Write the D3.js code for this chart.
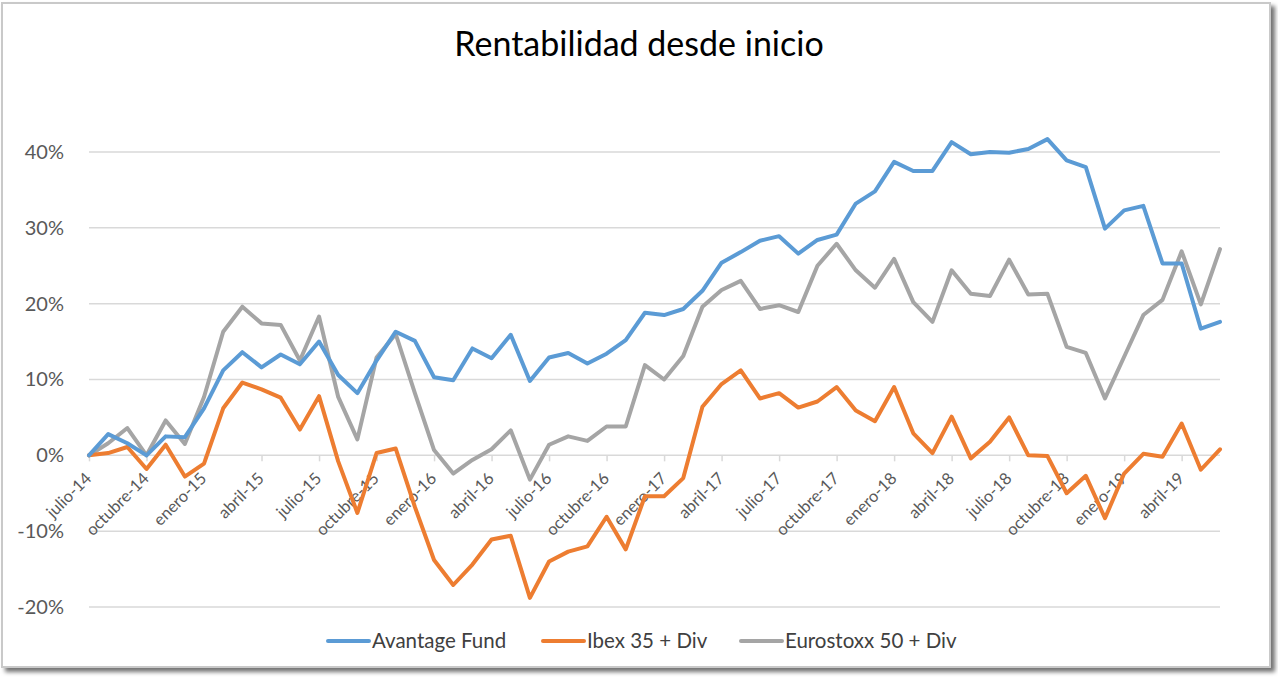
<!DOCTYPE html>
<html>
<head>
<meta charset="utf-8">
<script src="https://cdn.jsdelivr.net/npm/d3@7"></script>
<style>
  body { margin: 0; background: #fff; }
  svg text { font-family: Lato, "Open Sans", sans-serif; }
</style>
</head>
<body>
<svg></svg>
<script>
var width = 1278,
	height = 677;

var meses = ["julio-14","agosto-14","septiembre-14","octubre-14","noviembre-14","diciembre-14",
	"enero-15","febrero-15","marzo-15","abril-15","mayo-15","junio-15",
	"julio-15","agosto-15","septiembre-15","octubre-15","noviembre-15","diciembre-15",
	"enero-16","febrero-16","marzo-16","abril-16","mayo-16","junio-16",
	"julio-16","agosto-16","septiembre-16","octubre-16","noviembre-16","diciembre-16",
	"enero-17","febrero-17","marzo-17","abril-17","mayo-17","junio-17",
	"julio-17","agosto-17","septiembre-17","octubre-17","noviembre-17","diciembre-17",
	"enero-18","febrero-18","marzo-18","abril-18","mayo-18","junio-18",
	"julio-18","agosto-18","septiembre-18","octubre-18","noviembre-18","diciembre-18",
	"enero-19","febrero-19","marzo-19","abril-19","mayo-19","junio-19"];

// rentabilidad acumulada en %
var avantage = [0, 2.8, 1.6, 0, 2.5, 2.4, 6.2, 11.2, 13.6, 11.6, 13.3, 12.0,
	15.0, 10.6, 8.2, 12.5, 16.3, 15.1, 10.3, 9.9, 14.1, 12.8, 15.9, 9.8,
	12.9, 13.5, 12.1, 13.4, 15.2, 18.8, 18.5, 19.3, 21.7, 25.4, 26.8, 28.3,
	28.9, 26.6, 28.4, 29.1, 33.2, 34.8, 38.7, 37.5, 37.5, 41.3, 39.7, 40.0,
	39.9, 40.4, 41.7, 38.9, 38.0, 29.9, 32.3, 32.9, 25.3, 25.3, 16.7, 17.6];

var ibex = [0, 0.3, 1.1, -1.8, 1.4, -2.8, -1.1, 6.2, 9.6, 8.7, 7.6, 3.4,
	7.8, -0.8, -7.6, 0.3, 0.9, -6.8, -13.8, -17.1, -14.4, -11.1, -10.6, -18.8,
	-14.0, -12.7, -12.0, -8.1, -12.4, -5.4, -5.4, -3.0, 6.4, 9.4, 11.2, 7.5,
	8.2, 6.3, 7.1, 9.0, 5.9, 4.5, 9.0, 2.9, 0.3, 5.1, -0.4, 1.8,
	5.0, 0.0, -0.1, -5.0, -2.7, -8.3, -2.4, 0.2, -0.2, 4.2, -1.9, 0.8];

var eurostoxx = [0, 1.6, 3.6, 0, 4.6, 1.5, 7.7, 16.3, 19.6, 17.4, 17.2, 12.5,
	18.3, 7.7, 2.1, 12.9, 16.0, 8.2, 0.7, -2.4, -0.6, 0.8, 3.3, -3.2,
	1.4, 2.5, 1.9, 3.8, 3.8, 11.9, 10.0, 13.1, 19.6, 21.8, 23.0, 19.3,
	19.8, 18.9, 25.0, 27.9, 24.4, 22.1, 25.9, 20.2, 17.6, 24.4, 21.3, 21.0,
	25.8, 21.2, 21.3, 14.3, 13.5, 7.5, 13.0, 18.5, 20.5, 26.9, 19.9, 27.2];

var series = [
	{name: "Avantage Fund", values: avantage, color: "#5B9BD5"},
	{name: "Ibex 35 + Div", values: ibex, color: "#ED7D31"},
	{name: "Eurostoxx 50 + Div", values: eurostoxx, color: "#A5A5A5"}
];

var yTicks = [-20, -10, 0, 10, 20, 30, 40];

var svg = d3.select("svg")
	.attr("width", width)
	.attr("height", height);

// marco con sombra
var defs = svg.append("defs");
var f = defs.append("filter").attr("id", "sombra")
	.attr("x", "-2%").attr("y", "-2%").attr("width", "104%").attr("height", "106%");
f.append("feDropShadow")
	.attr("dx", 4).attr("dy", 4).attr("stdDeviation", 2)
	.attr("flood-color", "#000").attr("flood-opacity", 0.55);

svg.append("rect")
	.attr("x", 2).attr("y", 3)
	.attr("width", 1268).attr("height", 664)
	.attr("fill", "#fff")
	.attr("stroke", "#c9c9c9")
	.attr("stroke-width", 2)
	.attr("filter", "url(#sombra)");

var x = d3.scalePoint()
	.domain(meses)
	.range([89, 1220]);

var y = d3.scaleLinear()
	.domain([-20, 40])
	.range([607, 152]);

// titulo
svg.append("text")
	.attr("x", 639)
	.attr("y", 56)
	.attr("text-anchor", "middle")
	.style("font-size", "34px")
	.style("fill", "#000")
	.text("Rentabilidad desde inicio");

// rejilla
svg.append("g")
	.selectAll("line")
	.data(yTicks)
	.enter()
	.append("line")
	.attr("x1", 89)
	.attr("x2", 1220)
	.attr("y1", function(d) { return y(d); })
	.attr("y2", function(d) { return y(d); })
	.attr("stroke", "#d9d9d9")
	.attr("stroke-width", 1.5);

// eje y
var yAxis = svg.append("g")
	.attr("transform", "translate(89,0)")
	.call(d3.axisLeft(y).tickValues(yTicks).tickSize(0).tickPadding(25)
		.tickFormat(function(d) { return d + "%"; }));
yAxis.select(".domain").remove();
yAxis.selectAll("text")
	.style("font-size", "20px")
	.style("fill", "#595959");

// eje x
var xAxis = svg.append("g")
	.attr("transform", "translate(0," + y(0) + ")")
	.call(d3.axisBottom(x)
		.tickValues(meses.filter(function(d, i) { return i % 3 == 0; }))
		.tickSize(6));
xAxis.select(".domain").remove();
xAxis.selectAll(".tick line").attr("stroke", "#d9d9d9").attr("stroke-width", 1.5);
xAxis.selectAll("text")
	.style("font-size", "16.5px")
	.style("fill", "#595959")
	.attr("text-anchor", "end")
	.attr("dy", "0.35em")
	.attr("transform", "translate(-1,20) rotate(-45)")
	.attr("y", 0)
	.attr("x", 0);

// lineas
var line = d3.line()
	.x(function(d, i) { return x(meses[i]); })
	.y(function(d) { return y(d); });

svg.append("g")
	.selectAll("path")
	.data(series.slice().reverse())
	.enter()
	.append("path")
	.attr("d", function(d) { return line(d.values); })
	.attr("fill", "none")
	.attr("stroke", function(d) { return d.color; })
	.attr("stroke-width", 4)
	.attr("stroke-linejoin", "round")
	.attr("stroke-linecap", "round");

// leyenda
var legX = [328, 543, 741];
var leg = svg.append("g")
	.selectAll("g")
	.data(series)
	.enter()
	.append("g")
	.attr("transform", function(d, i) { return "translate(" + legX[i] + ",641)"; });
leg.append("line")
	.attr("x1", 0).attr("x2", 41)
	.attr("stroke", function(d) { return d.color; })
	.attr("stroke-width", 4)
	.attr("stroke-linecap", "round");
leg.append("text")
	.attr("x", 44)
	.attr("dy", "0.35em")
	.style("font-size", "20.5px")
	.style("fill", "#404040")
	.text(function(d) { return d.name; });
</script>
</body>
</html>
